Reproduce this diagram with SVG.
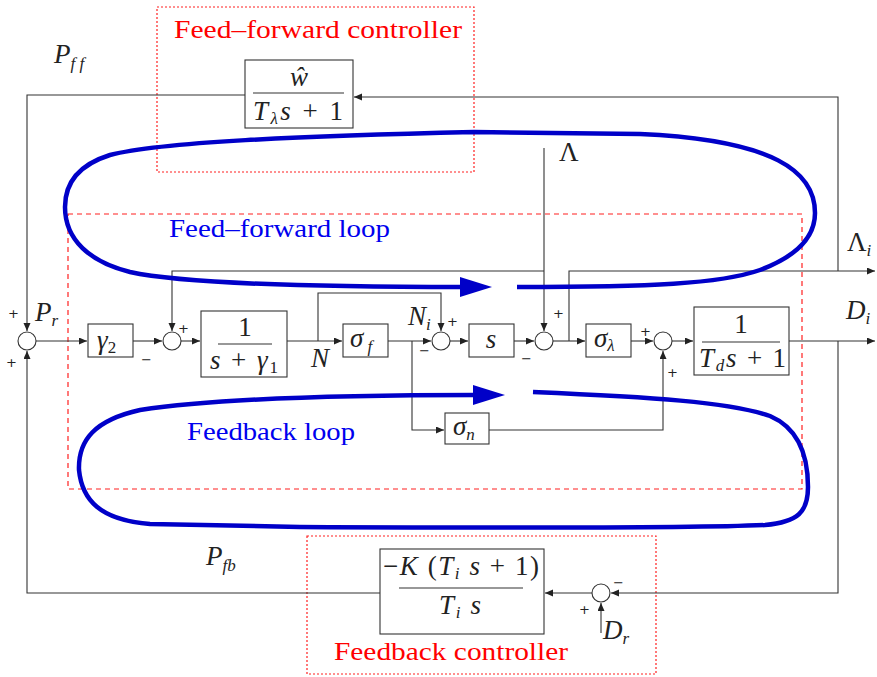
<svg xmlns="http://www.w3.org/2000/svg" width="877" height="677" viewBox="0 0 877 677">
<defs>
<marker id="ar" markerUnits="userSpaceOnUse" markerWidth="9" markerHeight="8" refX="8" refY="3.5" orient="auto">
<path d="M0,0 L8,3.5 L0,7 z" fill="#222"/>
</marker>
<style>
.ln{fill:none;stroke:#333;stroke-width:1.1}
.bx{fill:#fff;stroke:#333;stroke-width:1.1}
.sm{fill:#fff;stroke:#333;stroke-width:1.1}
.m{font-family:'Liberation Serif','DejaVu Serif',serif;font-style:italic;font-size:27px;fill:#222}
.r{font-style:normal}
.sub{font-size:17px}
.pm{font-family:'DejaVu Sans',sans-serif;font-size:13px;fill:#222}
.red{font-family:'Liberation Serif','DejaVu Serif',serif;font-size:25px;fill:#ff0000}
.blue{font-family:'Liberation Serif','DejaVu Serif',serif;font-size:25px;fill:#0000ee}
.loop{fill:none;stroke:#0000c8;stroke-width:4.5;stroke-linecap:butt}
.fl{stroke:#333;stroke-width:1.1}
</style>
</defs>
<rect width="877" height="677" fill="#fff"/>

<g id="ff-controller-region">
<rect x="157" y="7" width="317" height="165" fill="none" stroke="#ff2020" stroke-width="1.2" stroke-dasharray="2,2"/>
<text class="red" x="174" y="38" textLength="288" lengthAdjust="spacingAndGlyphs">Feed–forward controller</text>
</g>
<g id="fb-controller-region">
<rect x="307" y="536" width="349" height="138" fill="none" stroke="#ff2020" stroke-width="1.2" stroke-dasharray="2,2"/>
<text class="red" x="334" y="660" textLength="234" lengthAdjust="spacingAndGlyphs">Feedback controller</text>
</g>
<g id="plant-region">
<rect x="68" y="214" width="734" height="275" fill="none" stroke="#ff2020" stroke-width="1.2" stroke-dasharray="5,4"/>
</g>

<g id="connectors">
<path class="ln" d="M245 95 H27 V331" marker-end="url(#ar)"/>
<path class="ln" d="M838 271 V97 H354" marker-end="url(#ar)"/>
<path class="ln" d="M36 341 H87" marker-end="url(#ar)"/>
<path class="ln" d="M133 341 H162" marker-end="url(#ar)"/>
<path class="ln" d="M181 341 H200" marker-end="url(#ar)"/>
<path class="ln" d="M287 341 H342" marker-end="url(#ar)"/>
<path class="ln" d="M318 341 V293 H441 V331" marker-end="url(#ar)"/>
<path class="ln" d="M388 341 H431" marker-end="url(#ar)"/>
<path class="ln" d="M412 341 V430 H444" marker-end="url(#ar)"/>
<path class="ln" d="M489 430 H663 V351" marker-end="url(#ar)"/>
<path class="ln" d="M450 341 H468" marker-end="url(#ar)"/>
<path class="ln" d="M514 341 H534" marker-end="url(#ar)"/>
<path class="ln" d="M544 148 V331" marker-end="url(#ar)"/>
<path class="ln" d="M544 271 H172 V331" marker-end="url(#ar)"/>
<path class="ln" d="M553 341 H585" marker-end="url(#ar)"/>
<path class="ln" d="M569 341 V271 H875" marker-end="url(#ar)"/>
<path class="ln" d="M631 341 H653" marker-end="url(#ar)"/>
<path class="ln" d="M672 341 H693" marker-end="url(#ar)"/>
<path class="ln" d="M789 341 H875" marker-end="url(#ar)"/>
<path class="ln" d="M838 341 V593 H611" marker-end="url(#ar)"/>
<path class="ln" d="M592 593 H545" marker-end="url(#ar)"/>
<path class="ln" d="M601 633 V603" marker-end="url(#ar)"/>
<path class="ln" d="M380 593 H27 V351" marker-end="url(#ar)"/>
</g>

<g id="sum-pr">
<circle class="sm" cx="27" cy="341" r="9"/>
<text class="pm" x="8" y="318">+</text>
<text class="pm" x="6" y="367">+</text>
<text class="m" x="35" y="321">P<tspan class="sub" dy="5">r</tspan></text>
</g>
<g id="gamma2">
<rect class="bx" x="88" y="324" width="45" height="33"/>
<text class="m" x="97" y="349">γ<tspan class="sub r" dy="4">2</tspan></text>
<text class="pm" x="141" y="364">−</text>
</g>
<g id="sum1">
<circle class="sm" cx="172" cy="341" r="9"/>
<text class="pm" x="178" y="333">+</text>
</g>
<g id="block1">
<rect class="bx" x="201" y="311" width="86" height="66"/>
<text class="m r" x="245" y="336" text-anchor="middle">1</text>
<line class="fl" x1="218" y1="344" x2="272" y2="344"/>
<text class="m" x="210" y="369" textLength="68" lengthAdjust="spacing">s <tspan class="r">+</tspan> γ<tspan class="sub r" dy="4">1</tspan></text>
<text class="m" x="311" y="367">N</text>
</g>
<g id="sigma-f">
<rect class="bx" x="343" y="324" width="45" height="33"/>
<text class="m" x="350" y="347">σ<tspan class="sub" dy="5"> f</tspan></text>
</g>
<g id="sum-ni">
<circle class="sm" cx="441" cy="341" r="9"/>
<text class="m" x="408" y="325">N<tspan class="sub" dy="5">i</tspan></text>
<text class="pm" x="447" y="326">+</text>
<text class="pm" x="419" y="355">−</text>
</g>
<g id="sigma-n">
<rect class="bx" x="445" y="413" width="44" height="31"/>
<text class="m" x="453" y="435">σ<tspan class="sub" dy="5">n</tspan></text>
</g>
<g id="s-block">
<rect class="bx" x="469" y="324" width="45" height="33"/>
<text class="m" x="491" y="348" text-anchor="middle">s</text>
</g>
<g id="sum-lambda">
<circle class="sm" cx="544" cy="341" r="9"/>
<text class="pm" x="553" y="318">+</text>
<text class="pm" x="521" y="363">−</text>
<text class="m r" x="559" y="161">Λ</text>
</g>
<g id="sigma-lambda">
<rect class="bx" x="586" y="324" width="45" height="33"/>
<text class="m" x="594" y="347">σ<tspan class="sub" dy="4">λ</tspan></text>
</g>
<g id="sum-d">
<circle class="sm" cx="663" cy="341" r="9"/>
<text class="pm" x="640" y="336">+</text>
<text class="pm" x="667" y="377">+</text>
</g>
<g id="block-td">
<rect class="bx" x="694" y="307" width="95" height="68"/>
<text class="m r" x="741" y="333" text-anchor="middle">1</text>
<line class="fl" x1="702" y1="342" x2="780" y2="342"/>
<text class="m" x="699" y="367" textLength="87" lengthAdjust="spacing">T<tspan class="sub" dy="4">d</tspan><tspan dy="-4">s <tspan class="r">+ 1</tspan></tspan></text>
</g>
<g id="outputs">
<text class="m r" x="847" y="251">Λ<tspan class="sub m" dy="5">i</tspan></text>
<text class="m" x="846" y="319">D<tspan class="sub" dy="5">i</tspan></text>
</g>
<g id="ff-block">
<rect class="bx" x="245" y="60" width="108" height="68"/>
<text class="m" x="299" y="86" text-anchor="middle">ŵ</text>
<line class="fl" x1="253" y1="93" x2="344" y2="93"/>
<text class="m" x="253" y="120" textLength="90" lengthAdjust="spacing">T<tspan class="sub" dy="4">λ</tspan><tspan dy="-4">s <tspan class="r">+ 1</tspan></tspan></text>
<text class="m" x="54" y="63">P<tspan class="sub" dy="6">f f</tspan></text>
</g>
<g id="fb-block">
<rect class="bx" x="380" y="549" width="164" height="85"/>
<text class="m" x="383" y="575" textLength="156" lengthAdjust="spacing"><tspan class="r">−</tspan>K <tspan class="r">(</tspan>T<tspan class="sub" dy="4">i</tspan><tspan dy="-4"> s <tspan class="r">+ 1)</tspan></tspan></text>
<line class="fl" x1="399" y1="588" x2="523" y2="588"/>
<text class="m" x="439" y="614" textLength="42" lengthAdjust="spacing">T<tspan class="sub" dy="4">i</tspan><tspan dy="-4"> s</tspan></text>
<text class="m" x="206" y="565">P<tspan class="sub" dy="6">fb</tspan></text>
</g>
<g id="sum-dr">
<circle class="sm" cx="601" cy="593" r="9"/>
<text class="pm" x="613" y="587">−</text>
<text class="pm" x="579" y="614">+</text>
<text class="m" x="603" y="639">D<tspan class="sub" dy="5">r</tspan></text>
</g>

<g id="ff-loop">
<path class="loop" d="M517 287 C650 287 720 284 760 270 C800 255 815 235 815 213 C815 172 775 140 640 134 L474 132 C300 136 160 142 110 155 C75 166 65 186 65 207 C65 240 90 262 130 272 C180 283 300 287 462 287"/>
<path d="M460 277 L492 287 L460 297 z" fill="#0000c8"/>
<text class="blue" x="169" y="237" textLength="221" lengthAdjust="spacingAndGlyphs">Feed–forward loop</text>
</g>
<g id="fb-loop">
<path class="loop" d="M533 392 C650 397 730 402 770 416 C798 428 808 455 808 487 C808 512 798 522 765 525 C700 528 500 528 300 527 L150 524 C100 520 82 500 79 470 C78 440 95 420 140 410 C220 398 350 395 476 395"/>
<path d="M473 385 L505 395 L473 405 z" fill="#0000c8"/>
<text class="blue" x="187" y="440" textLength="168" lengthAdjust="spacingAndGlyphs">Feedback loop</text>
</g>
</svg>
